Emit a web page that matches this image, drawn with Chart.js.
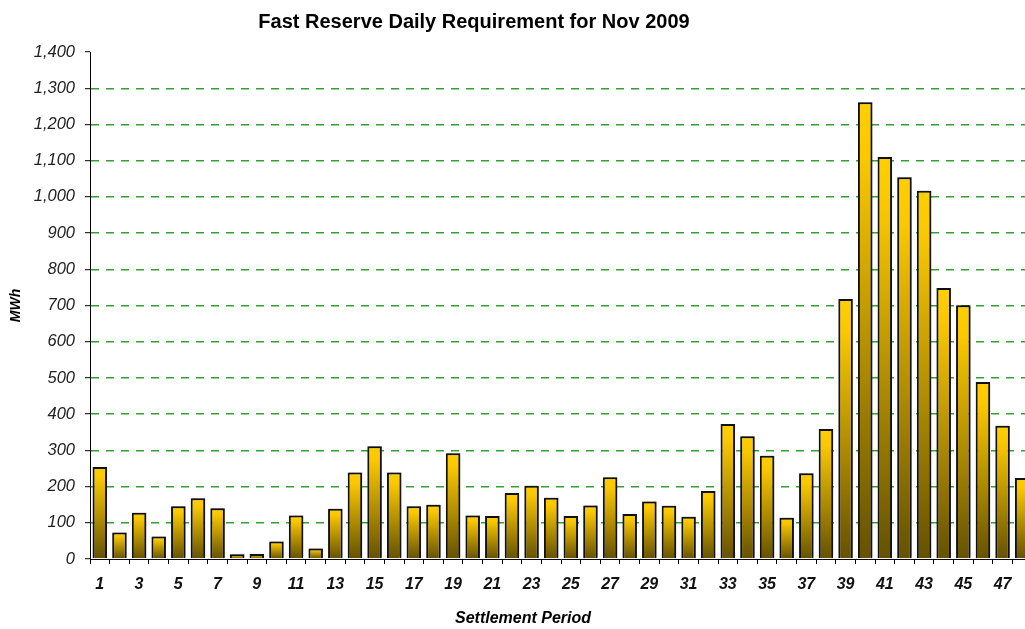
<!DOCTYPE html>
<html>
<head>
<meta charset="utf-8">
<title>Fast Reserve Daily Requirement for Nov 2009</title>
<style>
    html, body { margin: 0; padding: 0; background: #fff; overflow: hidden; }
    #chart-wrap { position: relative; width: 1040px; height: 629px; }
</style>
</head>
<body>
<div id="chart-wrap">
    <canvas id="fastReserveChart"></canvas>
</div>
<script src="https://cdn.jsdelivr.net/npm/chart.js"></script>
<script>
    const chartTitle = 'Fast Reserve Daily Requirement for Nov 2009';
    const xAxisTitle = 'Settlement Period';
    const yAxisTitle = 'MWh';

    // settlement periods 1..48
    const periods = [1, 2, 3, 4, 5, 6, 7, 8, 9, 10, 11, 12, 13, 14, 15, 16,
        17, 18, 19, 20, 21, 22, 23, 24, 25, 26, 27, 28, 29, 30, 31, 32,
        33, 34, 35, 36, 37, 38, 39, 40, 41, 42, 43, 44, 45, 46, 47, 48];

    // MWh
    const requirement = [254, 73, 128, 62, 146, 168, 140, 13, 14, 48,
        120, 29, 139, 239, 311, 239, 146, 150, 292, 120,
        119, 182, 202, 169, 119, 148, 226, 124, 159, 147,
        117, 188, 373, 339, 285, 114, 237, 359, 718, 1261,
        1110, 1054, 1017, 748, 701, 489, 368, 224];

    const yMin = 0;
    const yMax = 1400;
    const yStep = 100;

    const fontFamily = '"Liberation Sans", Arial, Helvetica, sans-serif';

    // yellow at the top of each bar fading to dark olive at the base
    function barGradient(ctx) {
        const chart = ctx.chart;
        if (!chart.chartArea || ctx.type !== 'data') {
            return '#FFCC00';
        }
        const y = chart.scales.y;
        const top = y.getPixelForValue(ctx.raw);
        const base = y.getPixelForValue(0);
        const g = chart.ctx.createLinearGradient(0, top, 0, base);
        g.addColorStop(0, '#FFCF00');
        g.addColorStop(0.12, '#FBC800');
        g.addColorStop(1, '#655100');
        return g;
    }

    const barShadow = {
        id: 'barShadow',
        beforeDatasetsDraw(chart) {
            const c = chart.ctx;
            c.save();
            c.shadowColor = 'rgba(0, 0, 0, 0.35)';
            c.shadowBlur = 1.5;
            c.shadowOffsetX = 1;
            c.shadowOffsetY = -1;
        },
        afterDatasetsDraw(chart) {
            chart.ctx.restore();
        }
    };

    const titles = {
        id: 'titles',
        afterDraw(chart) {
            const c = chart.ctx;
            c.save();
            c.fillStyle = '#000';
            c.textAlign = 'center';
            c.textBaseline = 'alphabetic';
            c.font = 'bold 20px ' + fontFamily;
            c.fillText(chartTitle, 474, 27.5);
            c.font = 'italic bold 16px ' + fontFamily;
            c.fillText(xAxisTitle, 523, 623);
            c.restore();
        }
    };

    new Chart(document.getElementById('fastReserveChart'), {
        type: 'bar',
        data: {
            labels: periods,
            datasets: [{
                label: 'Fast Reserve',
                data: requirement,
                backgroundColor: barGradient,
                borderColor: '#111',
                borderWidth: 2,
                categoryPercentage: 1,
                barPercentage: 0.74
            }]
        },
        options: {
            responsive: true,
            maintainAspectRatio: false,
            animation: false,
            layout: {
                padding: { left: 0, right: 8, top: 52, bottom: 0 }
            },
            plugins: {
                legend: { display: false },
                title: { display: false },
                tooltip: { enabled: false }
            },
            scales: {
                x: {
                    grid: {
                        display: true,
                        offset: true,
                        drawOnChartArea: false,
                        drawTicks: true,
                        tickLength: 5,
                        tickColor: '#000'
                    },
                    border: { display: true, color: '#000', width: 1 },
                    ticks: {
                        autoSkip: false,
                        maxRotation: 0,
                        padding: 11,
                        color: '#111',
                        font: { family: fontFamily, size: 16, style: 'italic', weight: 'bold' },
                        callback: (value, index) => index % 2 === 0 ? periods[index] : ''
                    },
                    afterFit: scale => { scale.height = 70; }
                },
                y: {
                    min: yMin,
                    max: yMax,
                    grid: {
                        color: ctx => (ctx.tick && (ctx.tick.value === yMin || ctx.tick.value === yMax)) ? 'rgba(0,0,0,0)' : '#34A034',
                        lineWidth: 1.4,
                        drawTicks: true,
                        tickLength: 5,
                        tickColor: '#000',
                        tickWidth: 1,
                        tickBorderDash: []
                    },
                    border: { display: true, color: '#000', width: 1, dash: [8, 7] },
                    ticks: {
                        stepSize: yStep,
                        padding: 10,
                        color: '#222',
                        font: { family: fontFamily, size: 16.5, style: 'italic' },
                        callback: value => value.toLocaleString('en-US')
                    },
                    title: {
                        display: true,
                        text: yAxisTitle,
                        color: '#000',
                        font: { family: fontFamily, size: 14, style: 'italic', weight: 'bold' },
                        padding: { top: 8, bottom: 0 }
                    },
                    afterFit: scale => { scale.width = 90; }
                }
            }
        },
        plugins: [barShadow, titles]
    });
</script>
</body>
</html>
